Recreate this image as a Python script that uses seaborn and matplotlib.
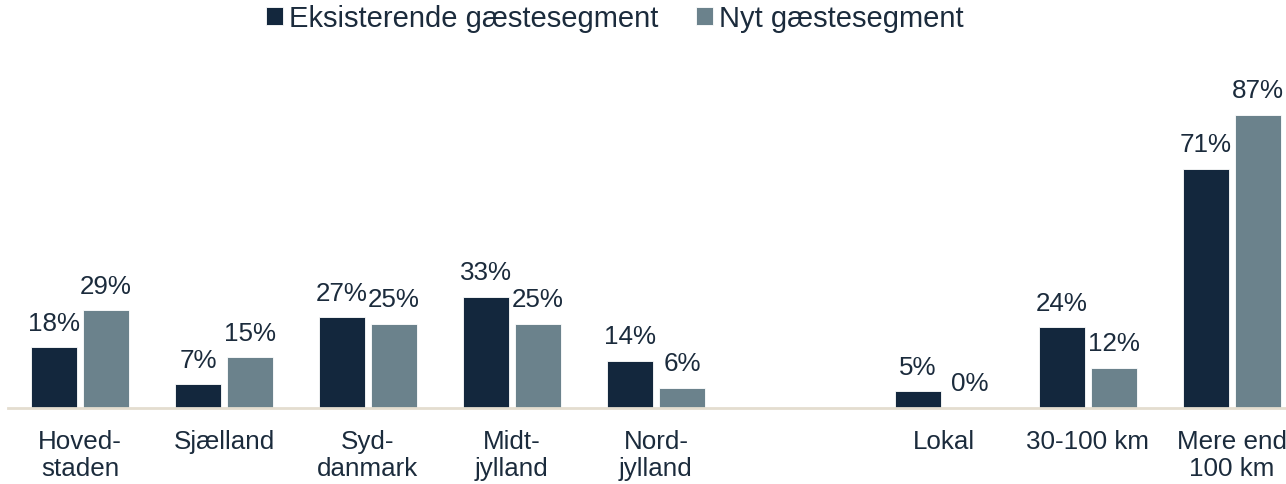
import matplotlib
matplotlib.use("Agg")
import matplotlib.pyplot as plt
import seaborn as sns
import pandas as pd
import numpy as np

categories = ["Hoved-\nstaden", "Sjælland", "Syd-\ndanmark", "Midt-\njylland", "Nord-\njylland",
              " ", "Lokal", "30-100 km", "Mere end\n100 km"]
eksisterende = [18, 7, 27, 33, 14, None, 5, 24, 71]
nyt = [29, 15, 25, 25, 6, None, 0, 12, 87]
series = ["Eksisterende gæstesegment", "Nyt gæstesegment"]

colors = ["#13273D", "#6B828C"]
text_color = "#1B2B3C"

rows = []
for c, a, b in zip(categories, eksisterende, nyt):
    if a is not None:
        rows.append({"cat": c, "serie": series[0], "val": a})
    if b is not None:
        rows.append({"cat": c, "serie": series[1], "val": b})
df = pd.DataFrame(rows)

sns.set_style("white")
plt.rcParams["font.family"] = ["Liberation Sans", "DejaVu Sans"]

fig = plt.figure(figsize=(12.86, 4.85), dpi=100)
ax = fig.add_axes([8 / 1286, 76 / 485, 1278 / 1286, 349 / 485])

sns.barplot(data=df, x="cat", y="val", hue="serie", order=categories, hue_order=series,
            palette=colors, width=0.722, gap=0.1, ax=ax, saturation=1,
            edgecolor="white", linewidth=0.6, legend=True)

for cont in ax.containers:
    ax.bar_label(cont, fmt="%.0f%%", padding=9, fontsize=18.7, color=text_color)

ax.set_xlim(-0.5, (1286 - 80) / 144)
ax.set_ylim(0, 349 / 3.37)
ax.set_xlabel("")
ax.set_ylabel("")
ax.set_yticks([])
for s in ["top", "right", "left"]:
    ax.spines[s].set_visible(False)
ax.spines["bottom"].set_color("#E4DDCF")
ax.spines["bottom"].set_linewidth(2)
ax.tick_params(axis="x", length=0, pad=15, labelsize=18.7, labelcolor=text_color)
for lab in ax.get_xticklabels():
    lab.set_linespacing(1.18)

handles, labels = ax.get_legend_handles_labels()
ax.get_legend().remove()
leg = fig.legend(handles, labels, loc="center", bbox_to_anchor=(0.478, 0.96), ncol=2,
                 frameon=False, fontsize=21, handlelength=0.57, handleheight=0.55,
                 handletextpad=0.21, columnspacing=1.3)
for t in leg.get_texts():
    t.set_color(text_color)

fig.savefig("out.png", dpi=100)
